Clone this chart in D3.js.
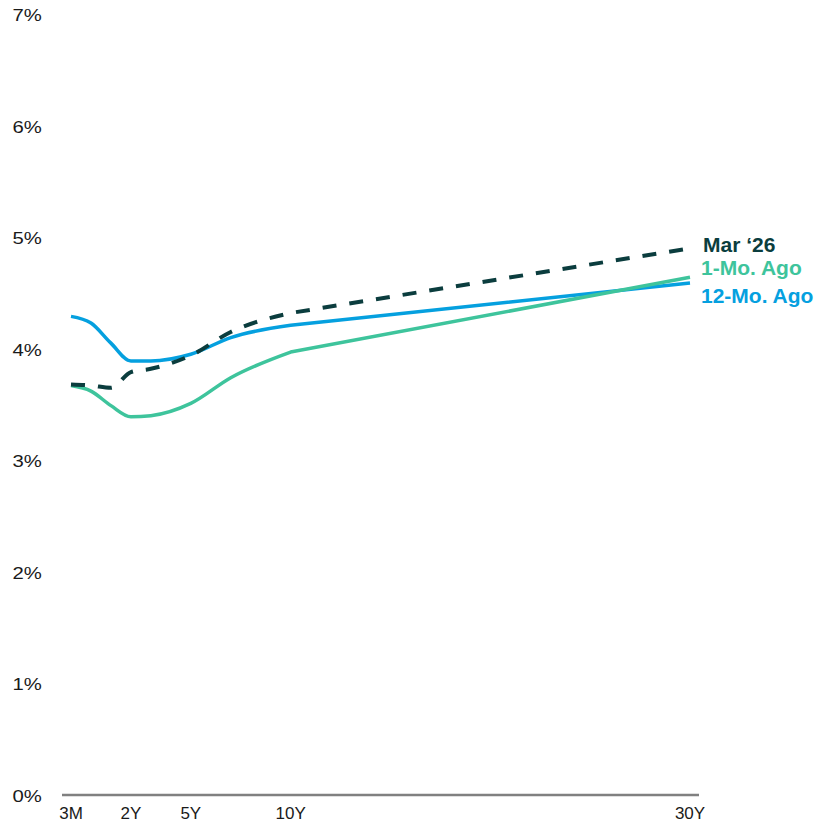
<!DOCTYPE html>
<html>
<head>
<meta charset="utf-8">
<script src="https://cdn.jsdelivr.net/npm/d3@7"></script>
<style>
  html, body { margin: 0; padding: 0; background: #fff; }
  svg { display: block; }
</style>
</head>
<body>
<svg id="chart" width="817" height="824"></svg>
<script>
// Maturities and their position on the axis (3M, 6M, 1Y then years)
const maturities = ["3M", "6M", "1Y", "2Y", "3Y", "5Y", "7Y", "10Y", "30Y"];
const maturityPos = [-1, 0, 1, 2, 3, 5, 7, 10, 30];

// Yields (%)
const marYields      = [3.68, 3.67, 3.65, 3.79, 3.82, 3.94, 4.15, 4.32, 4.90];
const oneMoAgoYields = [3.67, 3.62, 3.49, 3.39, 3.40, 3.51, 3.74, 3.97, 4.64];
const twelveMoYields = [4.29, 4.23, 4.05, 3.89, 3.89, 3.95, 4.10, 4.21, 4.59];

const seriesNames = ["Mar \u201826", "1-Mo. Ago", "12-Mo. Ago"];
const seriesColors = ["#0b3d3e", "#3ec49c", "#05a0df"];

const xTickLabels = ["3M", "2Y", "5Y", "10Y", "30Y"];
const yTicks = [0, 1, 2, 3, 4, 5, 6, 7];

const svg = d3.select("#chart");

const x = d3.scaleLinear().domain([-1, 30]).range([71, 690]);
const y = d3.scaleLinear().domain([0, 7]).range([795, 14]);

// Y tick labels
svg.append("g").selectAll("text")
  .data(yTicks)
  .join("text")
  .attr("transform", d => `translate(12.5,${y(d) + 7}) scale(1.27,1)`)
  .attr("font-family", "'Liberation Sans', Arial, sans-serif")
  .attr("font-size", 16)
  .attr("fill", "#1a1a1a")
  .text(d => d + "%");

// X axis baseline
svg.append("line")
  .attr("x1", 62).attr("x2", 699)
  .attr("y1", y(0)).attr("y2", y(0))
  .attr("stroke", "#808080")
  .attr("stroke-width", 2.5);

// X tick labels
svg.append("g").selectAll("text")
  .data(xTickLabels)
  .join("text")
  .attr("x", d => x(maturityPos[maturities.indexOf(d)]))
  .attr("y", 819)
  .attr("text-anchor", "middle")
  .attr("font-family", "'Liberation Sans', Arial, sans-serif")
  .attr("font-size", 17)
  .attr("fill", "#1a1a1a")
  .text(d => d);

// Smooth short end (through 10Y), straight long end (10Y -> 30Y)
const smoothLine = d3.line()
  .x(d => x(d.p))
  .y(d => y(d.v))
  .curve(d3.curveMonotoneX);
const straightLine = d3.line()
  .x(d => x(d.p))
  .y(d => y(d.v));

function pathFor(values) {
  const pts = values.map((v, i) => ({ p: maturityPos[i], v }));
  const split = maturities.indexOf("10Y");
  const a = smoothLine(pts.slice(0, split + 1));
  const b = straightLine(pts.slice(split)).replace(/^M[^L]*/, "");
  return a + b;
}

// draw 12-Mo, 1-Mo, then Mar on top
const series = [
  { values: twelveMoYields, color: seriesColors[2], dash: null, width: 3.5 },
  { values: oneMoAgoYields, color: seriesColors[1], dash: null, width: 3.5 },
  { values: marYields, color: seriesColors[0], dash: "14,13", width: 4 }
];

svg.append("g").selectAll("path")
  .data(series)
  .join("path")
  .attr("d", d => pathFor(d.values))
  .attr("fill", "none")
  .attr("stroke", d => d.color)
  .attr("stroke-width", d => d.width)
  .attr("stroke-dasharray", d => d.dash)
  .attr("stroke-linejoin", "round");

// Legend labels
const legendX = [703, 701, 701];
const legendY = [252, 275, 303];
svg.append("g").selectAll("text")
  .data(seriesNames)
  .join("text")
  .attr("x", (d, i) => legendX[i])
  .attr("y", (d, i) => legendY[i])
  .attr("font-family", "'Liberation Sans', Arial, sans-serif")
  .attr("font-weight", "bold")
  .attr("font-size", 21)
  .attr("fill", (d, i) => seriesColors[i])
  .text(d => d);
</script>
</body>
</html>
